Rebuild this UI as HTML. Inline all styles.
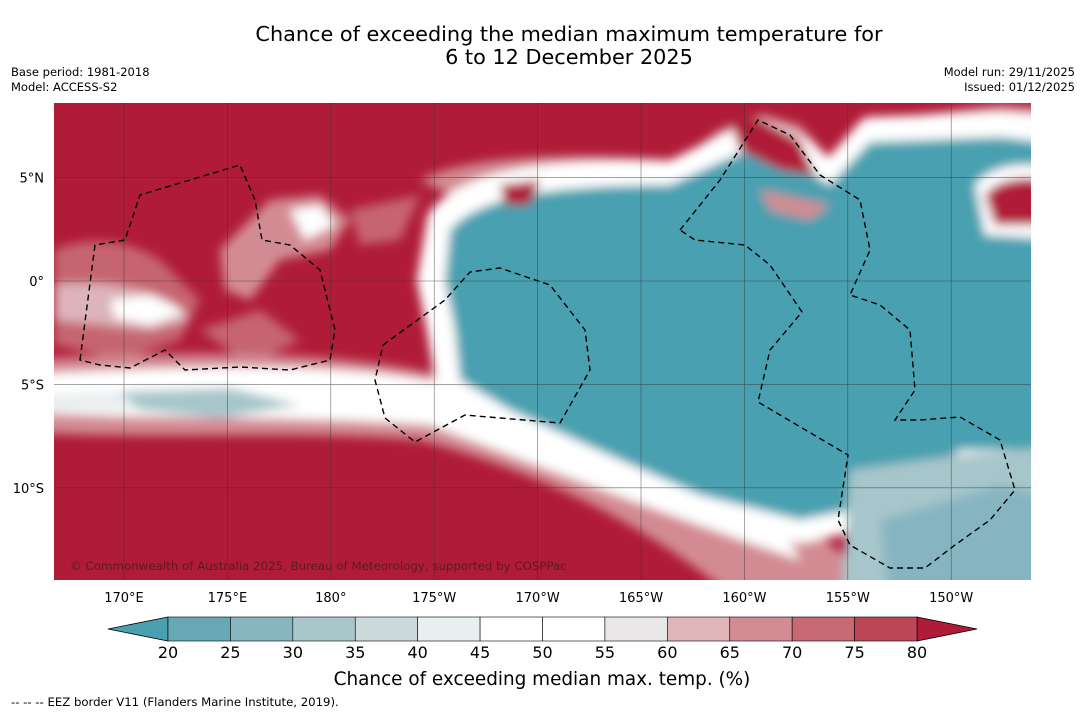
<!DOCTYPE html>
<html><head><meta charset="utf-8">
<style>
html,body{margin:0;padding:0;background:#fff;}
body{width:1085px;height:713px;overflow:hidden;font-family:"Liberation Sans","DejaVu Sans",sans-serif;}
</style></head>
<body>
<svg id="chart" width="1085" height="713" xmlns="http://www.w3.org/2000/svg" font-family="DejaVu Sans, Liberation Sans, sans-serif">
  <text x="569" y="41" font-size="20.8" text-anchor="middle" fill="#000">Chance of exceeding the median maximum temperature for</text>
  <text x="569" y="64" font-size="20.8" text-anchor="middle" fill="#000">6 to 12 December 2025</text>
  <text x="11" y="76" font-size="11.5">Base period: 1981-2018</text>
  <text x="11" y="91" font-size="11.5">Model: ACCESS-S2</text>
  <text x="1075" y="76" font-size="11.5" text-anchor="end">Model run: 29/11/2025</text>
  <text x="1075" y="91" font-size="11.5" text-anchor="end">Issued: 01/12/2025</text>

  <defs>
    <clipPath id="mapclip"><rect x="54" y="103" width="977" height="477"/></clipPath>
    <filter id="blur" filterUnits="userSpaceOnUse" x="-100" y="0" width="1300" height="800"><feGaussianBlur stdDeviation="5"/></filter>
  </defs>
  <g clip-path="url(#mapclip)">
    <rect x="54" y="103" width="977" height="477" fill="#b01c38"/>
    <g filter="url(#blur)">
      <path d="M54 250 C90 235 130 240 160 260 L200 300 L180 340 L120 360 L54 345 Z" fill="#c66570"/>
      <path d="M54 285 C90 280 130 285 170 300 L190 320 L150 330 L54 320 Z" fill="#dcb4b9"/>
      <path d="M110 300 L150 295 L185 312 L150 325 L115 318 Z" fill="#ffffff"/>
      <path d="M220 250 L270 200 L320 195 L350 220 L330 250 L280 260 L250 300 L225 290 Z" fill="#d38b93"/>
      <path d="M290 210 L320 205 L335 225 L305 240 Z" fill="#ffffff"/>
      <path d="M350 210 L420 195 L400 240 L360 245 Z" fill="#c66570"/>
      <path d="M200 330 L260 310 L300 340 L250 365 Z" fill="#c66570"/>
      <path d="M20 360 C200 350 350 350 460 380 L620 450 L700 490 L800 520 L850 560 L850 620 L760 620 C650 520 530 470 420 440 C300 430 150 440 20 432 Z" fill="#d38b93"/>
      <path d="M20 375 C200 365 350 362 450 385 L600 455 L700 500 L780 525 L800 560 C680 520 550 470 430 425 C300 415 150 420 20 412 Z" fill="#ffffff"/>
      <path d="M110 392 L230 388 L300 405 L220 418 L140 410 Z" fill="#a7c6cb"/>
      <path d="M20 395 L120 392 L140 410 L20 412 Z" fill="#e9eef1"/>
      <path d="M420 180 C480 150 600 155 680 160 L720 130 L760 115 L800 125 L830 160 L880 120 L1000 105 L1070 110 L1070 200 L900 200 L700 200 L480 210 Z" fill="#d38b93"/>
      <path d="M440 220 C470 180 560 170 670 175 L720 150 L760 130 L800 150 L830 175 L870 130 L1000 125 L1070 130 L1070 470 L960 460 L900 510 L800 530 L700 505 L620 470 L500 420 L450 390 L440 330 L430 280 Z" fill="#ffffff" stroke="#ffffff" stroke-width="26" stroke-linejoin="round"/>
      <path d="M450 230 C480 195 560 185 670 185 L720 162 L760 145 L800 165 L830 185 L870 142 L1000 137 L1070 145 L1070 450 L960 450 L900 500 L800 520 L700 495 L620 460 L510 410 L460 380 L455 330 L445 280 Z" fill="#4aa0b0"/>
      <path d="M730 120 L760 118 L800 140 L815 175 L780 170 L740 150 Z" fill="#b01c38"/>
      <path d="M850 470 L960 455 L1070 445 L1070 620 L840 620 Z" fill="#a7c6cb"/>
      <path d="M880 520 L1000 485 L1070 500 L1070 620 L890 620 Z" fill="#86b5c1"/>
      <path d="M760 190 L830 205 L810 220 L770 210 Z" fill="#d38b93"/>
      <path d="M975 185 C995 160 1040 160 1070 175 L1070 240 L985 235 Z" fill="#ffffff"/>
      <path d="M985 195 C1000 175 1040 175 1070 185 L1070 225 L995 225 Z" fill="#b01c38"/>
      <path d="M500 185 L540 180 L530 205 L505 205 Z" fill="#b01c38"/>
    </g>
    <g id="grid" stroke="#333" stroke-width="0.6" opacity="0.7"></g>
    <g fill="none" stroke="#000" stroke-width="1.4" stroke-dasharray="6,4">
      <path d="M80 360 L95 245 L125 240 L140 195 L240 165 L255 200 L262 240 L290 245 L320 270 L335 330 L330 360 L290 370 L240 367 L185 370 L165 350 L130 368 L100 365 Z"/>
      <path d="M383 345 L445 300 L470 272 L500 268 L550 285 L585 330 L590 370 L560 423 L500 418 L465 415 L415 442 L385 418 L375 380 Z"/>
      <path d="M680 230 L720 180 L758 120 L790 135 L820 175 L860 200 L870 250 L850 295 L880 305 L910 330 L915 390 L895 420 L920 420 L960 417 L1000 440 L1015 490 L990 520 L955 545 L925 568 L890 568 L850 545 L838 520 L848 455 L758 402 L770 350 L802 312 L770 265 L745 245 L695 240 Z"/>
    </g>
    <text x="70" y="570" font-size="11.8" fill="#5a1a24">© Commonwealth of Australia 2025, Bureau of Meteorology, supported by COSPPac</text>
  </g>
  <g id="lonlabels" font-size="13"></g>
  <g id="latlabels" font-size="13"></g>
  <g id="colorbar"></g>
  <text x="542" y="685" font-size="18.4" text-anchor="middle">Chance of exceeding median max. temp. (%)</text>
  <text x="11" y="706" font-size="11.7">--  --  -- EEZ border V11 (Flanders Marine Institute, 2019).</text>
</svg>
<script>
const levels = [20,25,30,35,40,45,50,55,60,65,70,75,80];
const binColors = ["#67a8b5","#87b6c1","#a9c7cb","#cbd9da","#e9eef1","#ffffff","#ffffff","#eae7e8","#dfb5ba","#d48c94","#c86872","#bc4656"];
const lowColor = "#4aa0b0";
const highColor = "#b01c38";
const lonTicks = [170,175,180,-175,-170,-165,-160,-155,-150];
const lonLabels = ["170°E","175°E","180°","175°W","170°W","165°W","160°W","155°W","150°W"];
const latTicks = [5,0,-5,-10];
const latLabels = ["5°N","0°","5°S","10°S"];

const NS = "http://www.w3.org/2000/svg";
const pxPerDeg = 103.4/5;
function xLon(l){ const e = l<0 ? l+360 : l; return 124 + (e-170)*pxPerDeg; }
function yLat(l){ return 281 - l*pxPerDeg; }
function mk(tag, attrs, parent){ const el=document.createElementNS(NS,tag); for(const k in attrs) el.setAttribute(k,attrs[k]); parent.appendChild(el); return el; }

const grid = document.getElementById('grid');
lonTicks.forEach((l,i)=>{
  const ln = mk('line',{x1:xLon(l),x2:xLon(l),y1:103,y2:580},grid);
  
  
  const t = mk('text',{x:xLon(l),y:602,'text-anchor':'middle'},document.getElementById('lonlabels'));
  t.textContent = lonLabels[i];
  
  
});
latTicks.forEach((l,i)=>{
  const ln = mk('line',{x1:54,x2:1031,y1:yLat(l),y2:yLat(l)},grid);
  
  
  const t = mk('text',{x:44,y:yLat(l)+5,'text-anchor':'end'},document.getElementById('latlabels'));
  t.textContent = latLabels[i];
  
  
});

const cb = document.getElementById('colorbar');
const cbX0 = 168, cbX1 = 917, cbY = 617, cbH = 24;
function xVal(v){ return cbX0 + (v-levels[0])/(levels[levels.length-1]-levels[0])*(cbX1-cbX0); }
const lowTri = mk('path',{d:`M${cbX0} ${cbY} L108 ${cbY+cbH/2} L${cbX0} ${cbY+cbH} Z`,fill:lowColor,stroke:'#000','stroke-width':0.8},cb);


const highTri = mk('path',{d:`M${cbX1} ${cbY} L977 ${cbY+cbH/2} L${cbX1} ${cbY+cbH} Z`,fill:highColor,stroke:'#000','stroke-width':0.8},cb);


for(let i=0;i<binColors.length;i++){
  const r = mk('rect',{x:xVal(levels[i]),y:cbY,width:xVal(levels[i+1])-xVal(levels[i]),height:cbH,fill:binColors[i],stroke:'#000','stroke-width':0.6},cb);
  
  
}
levels.forEach(v=>{
  const t = mk('text',{x:xVal(v),y:658,'text-anchor':'middle','font-size':16},cb);
  t.textContent = v;
  
  
});
</script>
</body></html>
